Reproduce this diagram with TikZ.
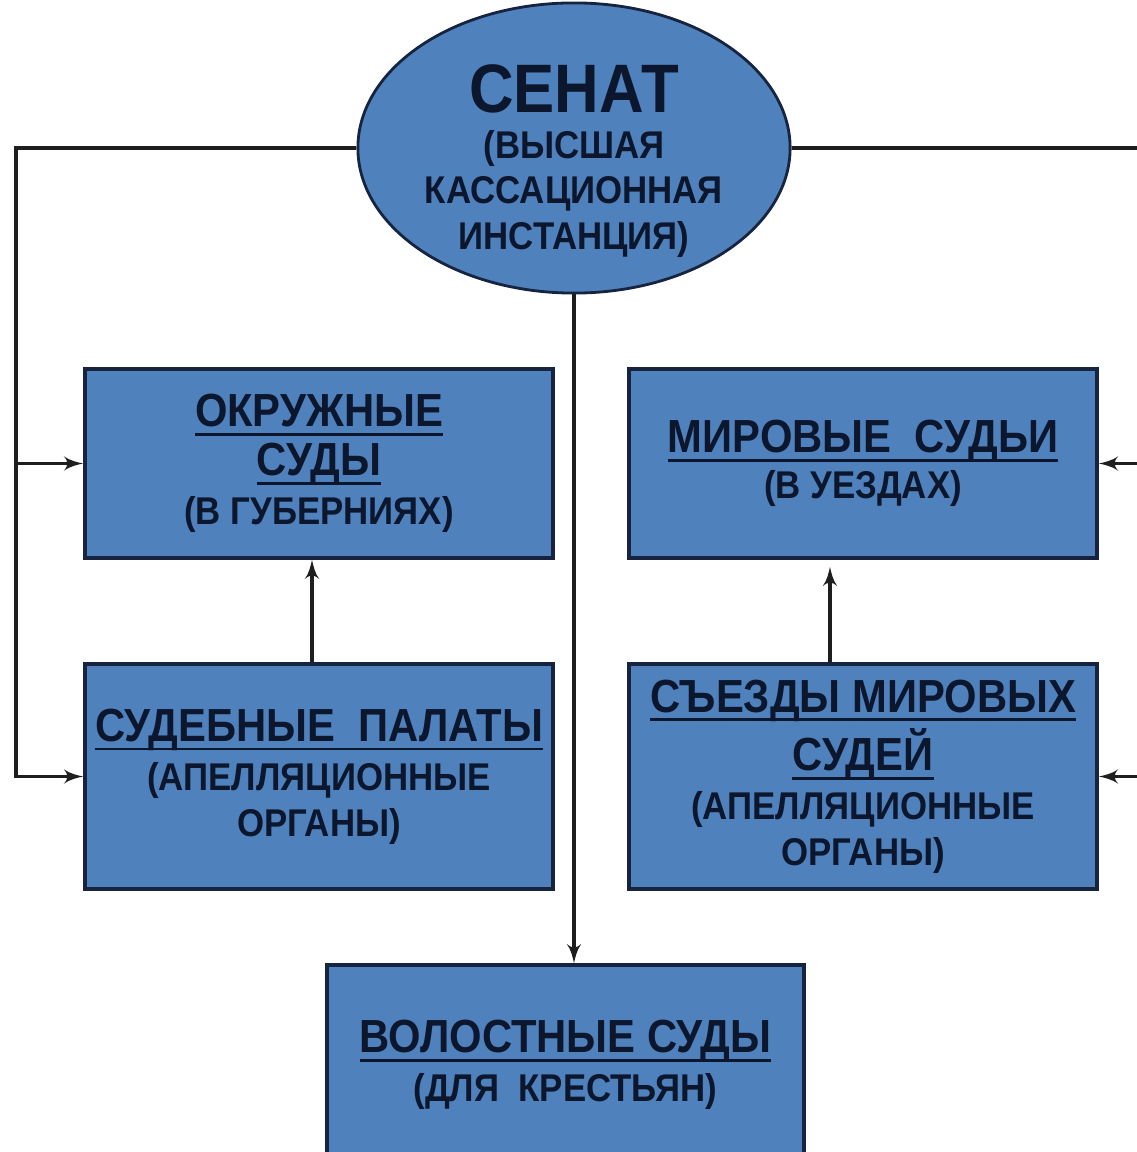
\documentclass[tikz,border=0pt]{standalone}
\usepackage{fontspec}
\setmainfont{Liberation Sans}[FakeStretch=0.9]
\usetikzlibrary{arrows,shapes.geometric}
\newcommand\UL[1]{\setbox0\hbox{#1}\rlap{\rule[-2.6pt]{\wd0}{0.8pt}}\box0}
\newcommand\TT[1]{{\fontsize{13.2}{14.2}\selectfont\UL{#1}}}
\definecolor{box_blue}{RGB}{79,129,189}
\definecolor{edge_navy}{RGB}{22,36,64}
\definecolor{text_navy}{RGB}{12,22,44}
\definecolor{line_gray}{RGB}{30,30,30}

\begin{document}
\begin{tikzpicture}[>=latex',x=0.01cm,y=-0.01cm]
    \tikzstyle{box}=[draw=edge_navy, line width=1pt, fill=box_blue, text=text_navy, align=center, inner sep=0pt, font=\bfseries\fontsize{11}{13}\selectfont]
    \tikzstyle{court}=[style=box, minimum width=4.68cm, minimum height=1.89cm]
    \tikzstyle{appeal}=[style=box, minimum width=4.68cm, minimum height=2.25cm]
    \tikzstyle{senate}=[style=box, ellipse, line width=0.8pt, inner sep=-8pt, minimum width=4.32cm, minimum height=2.9cm]
    \tikzstyle{link}=[draw=line_gray, line width=0.9pt]

    \useasboundingbox (0,0) rectangle (1136,1152);

    \node[senate] (senat)  at (574,148)   {{\fontsize{19.5}{20}\selectfont\rule{0pt}{21pt}СЕНАТ}\\ (ВЫСШАЯ\\ КАССАЦИОННАЯ\\ ИНСТАНЦИЯ)};
    \node[court]  (okr)    at (319,463.5) {\TT{ОКРУЖНЫЕ}\\[1pt] \TT{СУДЫ}\\[1pt] (В ГУБЕРНИЯХ)};
    \node[court]  (mir)    at (863,463.5) {\TT{МИРОВЫЕ\ \ СУДЬИ}\\ (В УЕЗДАХ)};
    \node[appeal] (palaty) at (319,776.5) {\TT{СУДЕБНЫЕ\ \ ПАЛАТЫ}\\[1pt] (АПЕЛЛЯЦИОННЫЕ\\ ОРГАНЫ)};
    \node[appeal] (syezdy) at (863,776.5) {\TT{СЪЕЗДЫ МИРОВЫХ}\\[1pt] \TT{СУДЕЙ}\\[1pt] (АПЕЛЛЯЦИОННЫЕ\\ ОРГАНЫ)};
    \node[box, minimum width=4.77cm, minimum height=2cm] (volost) at (565.5,1065) {\TT{ВОЛОСТНЫЕ СУДЫ}\\[1pt] (ДЛЯ\ \ КРЕСТЬЯН)};

    \coordinate (lt) at (16,0);
    \coordinate (rt) at (1150,0);

    \draw[link,->] (senat.west) -| (lt |- palaty.west) -- (palaty.west);
    \draw[link,->] (lt |- okr.west) -- (okr.west);
    \draw[link,->] (senat.east) -| (rt |- syezdy.east) -- (syezdy.east);
    \draw[link,->] (rt |- mir.east) -- (mir.east);
    \draw[link,->] (senat.south) -- (senat.south |- volost.north);
    \draw[link,->] ([xshift=-0.07cm]palaty.north) -- ([xshift=-0.07cm]okr.south);
    \draw[link,->,shorten >=2pt] ([xshift=-0.33cm]syezdy.north) -- ([xshift=-0.33cm]mir.south);
\end{tikzpicture}
\end{document}
